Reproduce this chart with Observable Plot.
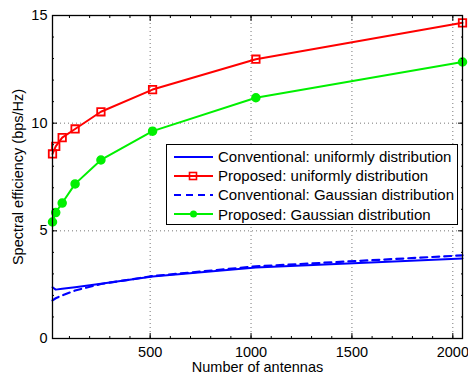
<!DOCTYPE html>
<html>
<head>
<meta charset="utf-8">
<script src="https://cdn.jsdelivr.net/npm/d3@7"></script>
<script src="https://cdn.jsdelivr.net/npm/@observablehq/plot@0.6"></script>
<style>
  html, body { margin: 0; padding: 0; background: #fff; }
  #wrap { position: relative; width: 468px; height: 375px; font-family: "Liberation Sans", Arial, sans-serif; }
  #legend { position: absolute; left: 166px; top: 144px; width: 292px; height: 81px; background: #fff; border: 1px solid #000; box-sizing: border-box; padding-top: 2px; }
  .row { display: flex; align-items: center; height: 19.2px; font-size: 15px; color: #000; white-space: nowrap; }
  .row svg { margin-left: 7px; margin-right: 5px; flex: none; }
</style>
</head>
<body>
<div id="wrap"></div>
<script>
const antennas = [16, 32, 64, 128, 256, 512, 1024, 2048];
const convUniform = [2.38, 2.27, 2.31, 2.38, 2.54, 2.88, 3.30, 3.72];
const propUniform = [8.57, 8.92, 9.33, 9.73, 10.53, 11.56, 12.97, 14.66];
const convGauss = [1.77, 1.87, 2.00, 2.23, 2.53, 2.90, 3.35, 3.86];
const propGauss = [5.41, 5.85, 6.29, 7.18, 8.29, 9.63, 11.18, 12.84];

const xTicks = [500, 1000, 1500, 2000];
const yTicks = [0, 5, 10, 15];
const xMinor = d3.range(100, 2048, 100);
const yMinor = d3.range(1, 15, 1);

const seriesNames = [
  "Conventional: uniformly distribution",
  "Proposed: uniformly distribution",
  "Conventional: Gaussian distribution",
  "Proposed: Gaussian distribution"
];

const toRows = (vals) => antennas.map((a, i) => ({x: a, y: vals[i]}));
const cu = toRows(convUniform), pu = toRows(propUniform), cg = toRows(convGauss), pg = toRows(propGauss);

const blue = "#0000ff", red = "#ff0000", green = "#00f000";
const fmt = d => String(d);

const chart = Plot.plot({
  width: 468,
  height: 375,
  marginLeft: 52,
  marginRight: 6,
  marginTop: 15,
  marginBottom: 37,
  style: {fontFamily: "'Liberation Sans', Arial, sans-serif", fontSize: "14.5px", color: "#000", background: "#fff"},
  x: {domain: [16, 2048]},
  y: {domain: [0, 15]},
  marks: [
    Plot.gridX(xTicks, {stroke: "#555", strokeOpacity: 0.8, strokeDasharray: "1,3"}),
    Plot.gridY(yTicks.filter(d => d > 0), {stroke: "#555", strokeOpacity: 0.8, strokeDasharray: "1,3"}),
    Plot.line(cu, {x: "x", y: "y", stroke: blue, strokeWidth: 2}),
    Plot.line(cg, {x: "x", y: "y", stroke: blue, strokeWidth: 2.2, strokeDasharray: "7,5"}),
    Plot.line(pu, {x: "x", y: "y", stroke: red, strokeWidth: 2}),
    Plot.dot(pu, {x: "x", y: "y", symbol: "square", r: 4.2, stroke: red, strokeWidth: 1.8, fill: "none"}),
    Plot.line(pg, {x: "x", y: "y", stroke: green, strokeWidth: 2}),
    Plot.dot(pg, {x: "x", y: "y", r: 4, fill: green, stroke: green}),
    Plot.axisX({ticks: xTicks, tickSize: 0, tickPadding: 8, fontSize: 14.5, tickFormat: fmt, label: null}),
    Plot.axisY({ticks: yTicks, tickSize: 0, tickPadding: 5, fontSize: 14.5, tickFormat: fmt, label: null}),
    Plot.axisX({anchor: "bottom", ticks: xTicks, tickSize: -5, tickFormat: () => "", label: null}),
    Plot.axisX({anchor: "top", ticks: xTicks, tickSize: -5, tickFormat: () => "", label: null}),
    Plot.axisY({anchor: "left", ticks: yTicks, tickSize: -5, tickFormat: () => "", label: null}),
    Plot.axisY({anchor: "right", ticks: yTicks, tickSize: -5, tickFormat: () => "", label: null}),
    Plot.axisX({anchor: "bottom", ticks: xMinor, tickSize: -2, tickFormat: () => "", label: null}),
    Plot.axisX({anchor: "top", ticks: xMinor, tickSize: -2, tickFormat: () => "", label: null}),
    Plot.axisY({anchor: "left", ticks: yMinor, tickSize: -2, tickFormat: () => "", label: null}),
    Plot.axisY({anchor: "right", ticks: yMinor, tickSize: -2, tickFormat: () => "", label: null}),
    Plot.frame({stroke: "#000", strokeWidth: 1.3}),
    Plot.text(["Number of antennas"], {frameAnchor: "bottom", lineAnchor: "middle", dy: 29, fontSize: 14.5, fill: "#000"}),
    Plot.text(["Spectral efficiency (bps/Hz)"], {frameAnchor: "left", textAnchor: "middle", lineAnchor: "middle", rotate: -90, dx: -34, fontSize: 14.5, fill: "#000"})
  ]
});

const wrap = document.getElementById("wrap");
wrap.appendChild(chart);

// legend
const legend = document.createElement("div");
legend.id = "legend";
const styles = [
  {stroke: blue, dash: null, marker: null},
  {stroke: red, dash: null, marker: "square"},
  {stroke: blue, dash: "7,5", marker: null},
  {stroke: green, dash: null, marker: "circle"}
];
seriesNames.forEach((name, i) => {
  const s = styles[i];
  const row = document.createElement("div");
  row.className = "row";
  const svg = d3.create("svg").attr("width", 39).attr("height", 10);
  svg.append("line").attr("x1", 0).attr("x2", 39).attr("y1", 5).attr("y2", 5)
    .attr("stroke", s.stroke).attr("stroke-width", 2).attr("stroke-dasharray", s.dash);
  if (s.marker === "square") svg.append("rect").attr("x", 15.5).attr("y", 1.5).attr("width", 7).attr("height", 7)
    .attr("fill", "none").attr("stroke", s.stroke).attr("stroke-width", 1.6);
  if (s.marker === "circle") svg.append("circle").attr("cx", 19.5).attr("cy", 5).attr("r", 3.5).attr("fill", s.stroke);
  row.appendChild(svg.node());
  const span = document.createElement("span");
  span.textContent = name;
  row.appendChild(span);
  legend.appendChild(row);
});
wrap.appendChild(legend);
</script>
</body>
</html>
